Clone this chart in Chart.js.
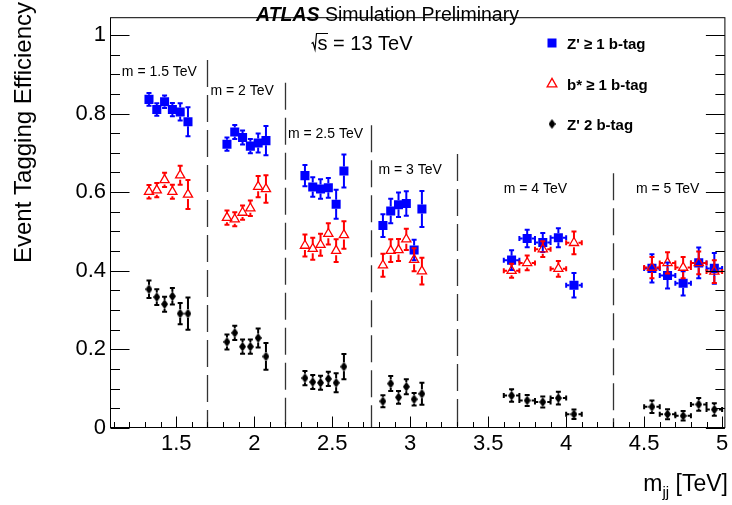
<!DOCTYPE html>
<html><head><meta charset="utf-8">
<script src="https://cdn.jsdelivr.net/npm/chart.js@4/dist/chart.umd.min.js"></script>
<style>html,body{margin:0;padding:0;background:#fff}#wrap{width:732px;height:505px;position:relative}</style>
</head><body><div id="wrap"><canvas id="c" width="732" height="505"></canvas></div>
<script>
// ---------------- data ----------------
const mjj = [1.325,1.375,1.425,1.475,1.525,1.575, 1.825,1.875,1.925,1.975,2.025,2.075,
             2.325,2.375,2.425,2.475,2.525,2.575, 2.825,2.875,2.925,2.975,3.025,3.075,
             3.65,3.75,3.85,3.95,4.05, 4.55,4.65,4.75,4.85,4.95];
const mjjErr = [0,0,0,0,0,0, 0,0,0,0,0,0, 0,0,0,0,0,0, 0,0,0,0,0,0,
                0.05,0.05,0.05,0.05,0.05, 0.05,0.05,0.05,0.05,0.05];
const zPrime1b = [0.836,0.810,0.830,0.810,0.804,0.779, 0.722,0.753,0.739,0.717,0.725,0.731,
                  0.642,0.613,0.608,0.611,0.569,0.654, 0.515,0.552,0.568,0.571,0.453,0.557,
                  0.427,0.482,0.472,0.484,0.363, 0.406,0.388,0.368,0.420,0.406];
const zPrime1bErr = [0.016,0.016,0.016,0.017,0.022,0.037, 0.017,0.018,0.018,0.018,0.024,0.037,
                     0.027,0.025,0.025,0.025,0.037,0.042, 0.029,0.031,0.031,0.031,0.026,0.046,
                     0.025,0.022,0.024,0.024,0.031, 0.036,0.033,0.031,0.039,0.039];
const bStar1b = [0.601,0.605,0.631,0.601,0.643,0.594, 0.535,0.531,0.548,0.559,0.614,0.608,
                 0.464,0.456,0.466,0.494,0.451,0.491, 0.414,0.451,0.453,0.480,0.428,0.399,
                 0.400,0.420,0.455,0.405,0.471, 0.408,0.420,0.408,0.420,0.398];
const bStar1bErr = [0.017,0.018,0.018,0.018,0.024,0.037, 0.018,0.018,0.018,0.020,0.027,0.035,
                    0.028,0.028,0.028,0.027,0.029,0.035, 0.029,0.029,0.028,0.027,0.029,0.034,
                    0.018,0.019,0.020,0.020,0.029, 0.027,0.027,0.027,0.029,0.029];
const zPrime2b = [0.353,0.333,0.315,0.335,0.291,0.291, 0.219,0.242,0.207,0.207,0.229,0.182,
                  0.127,0.117,0.115,0.125,0.115,0.156, 0.068,0.113,0.078,0.105,0.073,0.087,
                  0.0825,0.070,0.066,0.076,0.035, 0.054,0.035,0.031,0.060,0.047];
const zPrime2bErr = [0.022,0.020,0.019,0.021,0.027,0.041, 0.019,0.018,0.018,0.018,0.024,0.034,
                     0.018,0.018,0.018,0.018,0.024,0.032, 0.015,0.019,0.016,0.019,0.016,0.028,
                     0.016,0.014,0.014,0.016,0.012, 0.016,0.013,0.012,0.016,0.016];
const seriesLabels = ["Z' \u2265 1 b-tag", "b* \u2265 1 b-tag", "Z' 2 b-tag"];
const xTicks = [1.5,2,2.5,3,3.5,4,4.5,5];
const xTickLabels = ['1.5','2','2.5','3','3.5','4','4.5','5'];
const yTicks = [0,0.2,0.4,0.6,0.8,1];
const yTickLabels = ['0','0.2','0.4','0.6','0.8','1'];
const massLabels = ['m = 1.5 TeV','m = 2 TeV','m = 2.5 TeV','m = 3 TeV','m = 4 TeV','m = 5 TeV'];
const massLabelX = [1.151,1.719,2.216,2.796,3.599,4.447];
const massLabelY = [0.895,0.846,0.737,0.647,0.598,0.598];
const separatorX = [1.7,2.2,2.75,3.3,4.3];
const separatorTop = [0.936,0.878,0.770,0.697,0.648];

// ---------------- styling helpers ----------------
const FONT = '"Liberation Sans", Arial, Helvetica, sans-serif';
function diamondImg(w,h,color){
  const c=document.createElement('canvas');c.width=w;c.height=h;
  const g=c.getContext('2d');g.fillStyle=color;g.beginPath();
  g.moveTo(w/2,0);g.lineTo(w,h/2);g.lineTo(w/2,h);g.lineTo(0,h/2);g.closePath();g.fill();
  return c;
}
const diamond = diamondImg(7,10,'#000');
function pts(ys){return ys.map((v,i)=>({x:mjj[i],y:v}));}

const datasets = [
  {label:seriesLabels[0], data:pts(zPrime1b), yErr:zPrime1bErr, xErr:mjjErr, order:3,
   errColor:'#0000ff', gap:4.5, pointStyle:'rect', pointRadius:6.4, pointHoverRadius:6.4,
   backgroundColor:'#0000ff', borderColor:'#0000ff', borderWidth:0, showLine:false},
  {label:seriesLabels[1], data:pts(bStar1b), yErr:bStar1bErr, xErr:mjjErr, order:2,
   errColor:'#ff0000', gap:4.5, pointStyle:'triangle', pointRadius:5.3, pointHoverRadius:5.3,
   backgroundColor:'rgba(0,0,0,0)', borderColor:'#ff0000', borderWidth:1.3, showLine:false},
  {label:seriesLabels[2], data:pts(zPrime2b), yErr:zPrime2bErr, xErr:mjjErr, order:1,
   errColor:'#000000', gap:4.5, pointStyle:diamond, pointRadius:5, pointHoverRadius:5,
   backgroundColor:'#000', borderColor:'#000', borderWidth:0, showLine:false}
];

// error bars, drawn just before each dataset's markers
const errorBars = {
  id:'errorBars',
  beforeDatasetDraw(chart, args){
    const ds = chart.data.datasets[args.index];
    const {ctx, scales:{x, y}} = chart;
    ctx.save();
    ctx.strokeStyle = ds.errColor; ctx.lineWidth = 2; ctx.lineCap='butt';
    const cap = 2.5, g = ds.gap;
    ds.data.forEach((p,j)=>{
      const px = x.getPixelForValue(p.x), py = y.getPixelForValue(p.y);
      const t = y.getPixelForValue(p.y + ds.yErr[j]), b = y.getPixelForValue(p.y - ds.yErr[j]);
      ctx.beginPath();
      if (py - t > g) { ctx.moveTo(px, t); ctx.lineTo(px, py - g); }
      if (b - py > g) { ctx.moveTo(px, py + g); ctx.lineTo(px, b); }
      ctx.moveTo(px - cap, t); ctx.lineTo(px + cap, t);
      ctx.moveTo(px - cap, b); ctx.lineTo(px + cap, b);
      if (ds.xErr[j] > 0) {
        const l = x.getPixelForValue(p.x - ds.xErr[j]), r = x.getPixelForValue(p.x + ds.xErr[j]);
        ctx.moveTo(l, py); ctx.lineTo(px - g, py);
        ctx.moveTo(px + g, py); ctx.lineTo(r, py);
        ctx.moveTo(l, py - cap); ctx.lineTo(l, py + cap);
        ctx.moveTo(r, py - cap); ctx.lineTo(r, py + cap);
      }
      ctx.stroke();
    });
    ctx.restore();
  }
};

// frame, ticks, separators, annotations, legend, titles
const decorations = {
  id:'decorations',
  beforeDatasetsDraw(chart){
    const {ctx, scales:{x, y}} = chart;
    ctx.save();
    ctx.strokeStyle = '#333'; ctx.lineWidth = 1.3; ctx.setLineDash([27,8]);
    separatorX.forEach((sx,i)=>{
      const px = Math.round(x.getPixelForValue(sx)) + 0.5;
      ctx.beginPath(); ctx.moveTo(px, y.getPixelForValue(separatorTop[i])); ctx.lineTo(px, y.getPixelForValue(0)); ctx.stroke();
    });
    ctx.setLineDash([]);
    ctx.fillStyle = '#000'; ctx.font = '14px ' + FONT; ctx.textAlign='left'; ctx.textBaseline='alphabetic';
    massLabels.forEach((t,i)=>{
      ctx.fillText(t, x.getPixelForValue(massLabelX[i]), y.getPixelForValue(massLabelY[i]));
    });
    ctx.restore();
  },
  afterDraw(chart){
    const {ctx, chartArea:a, scales:{x, y}} = chart;
    ctx.save();
    ctx.strokeStyle = '#000'; ctx.lineWidth = 1;
    const L = a.left + 0.5, R = a.right - 0.5, T = a.top + 0.5, B = a.bottom - 0.5;
    ctx.strokeRect(L, T, R - L, B - T);
    ctx.beginPath();
    // y ticks (left and right)
    for (let k = 0; k <= 20; k++) {
      const v = k * 0.05; const py = Math.round(y.getPixelForValue(v)) + 0.5;
      const len = (k % 4 === 0) ? 19 : 9.5;
      ctx.moveTo(L, py); ctx.lineTo(L + len, py);
      ctx.moveTo(R, py); ctx.lineTo(R - len, py);
    }
    // x ticks (bottom)
    for (let k = 11; k <= 50; k++) {
      const v = k * 0.1; const px = Math.round(x.getPixelForValue(v)) + 0.5;
      const len = (k % 5 === 0) ? 11 : 5.5;
      ctx.moveTo(px, B); ctx.lineTo(px, B - len);
    }
    ctx.stroke();

    // title
    ctx.fillStyle = '#000'; ctx.textBaseline = 'alphabetic'; ctx.textAlign = 'left';
    ctx.font = 'italic bold 19.5px ' + FONT;
    ctx.fillText('ATLAS', 256, 21);
    const wA = ctx.measureText('ATLAS').width;
    ctx.font = '19.5px ' + FONT;
    ctx.fillText(' Simulation Preliminary', 256 + wA, 21);
    // sqrt(s) = 13 TeV
    ctx.font = '20px ' + FONT;
    const sx = 317.5, sb = 49.5;
    ctx.fillText('s = 13 TeV', sx, sb);
    const ws = ctx.measureText('s').width;
    ctx.lineWidth = 1.2; ctx.strokeStyle = '#000'; ctx.beginPath();
    ctx.moveTo(sx - 6, sb - 6); ctx.lineTo(sx - 4.5, sb - 7); ctx.lineTo(sx - 2.5, sb); ctx.lineTo(sx - 1, sb - 16);
    ctx.lineTo(sx + ws + 0.5, sb - 16); ctx.stroke();

    // legend
    const legY = [43, 84, 124], legBase = [48.5, 89.5, 130], mx = 552, tx = 567;
    chart.data.datasets.forEach((ds,i)=>{
      ctx.beginPath();
      if (ds.pointStyle === 'rect') {
        ctx.fillStyle = ds.backgroundColor; ctx.fillRect(mx - 4.5, legY[i] - 4.5, 9, 9);
      } else if (ds.pointStyle === 'triangle') {
        const r = 5.6; ctx.strokeStyle = ds.borderColor; ctx.lineWidth = ds.borderWidth;
        ctx.moveTo(mx, legY[i] - r); ctx.lineTo(mx + r*0.866, legY[i] + r/2); ctx.lineTo(mx - r*0.866, legY[i] + r/2);
        ctx.closePath(); ctx.stroke();
      } else {
        ctx.drawImage(ds.pointStyle, mx - ds.pointStyle.width/2, legY[i] - ds.pointStyle.height/2);
      }
      ctx.fillStyle = '#000'; ctx.font = 'bold 15px ' + FONT;
      ctx.fillText(ds.label, tx, legBase[i]);
    });

    // axis titles
    ctx.fillStyle = '#000';
    ctx.font = '23px ' + FONT; ctx.textAlign = 'left';
    const xt = ['m', 'jj', ' [TeV]'];
    const wm = ctx.measureText(xt[0]).width, wT = ctx.measureText(xt[2]).width;
    ctx.font = '15px ' + FONT; const wj = ctx.measureText(xt[1]).width;
    let x0 = 728 - wm - wj - wT;
    ctx.font = '23px ' + FONT; ctx.fillText(xt[0], x0, 491);
    ctx.font = '15px ' + FONT; ctx.fillText(xt[1], x0 + wm, 497);
    ctx.font = '23px ' + FONT; ctx.fillText(xt[2], x0 + wm + wj, 491);

    ctx.translate(31, 263); ctx.rotate(-Math.PI/2);
    ctx.font = '24px ' + FONT; ctx.fillText('Event Tagging Efficiency', 0, 0);
    ctx.restore();
  }
};

new Chart(document.getElementById('c'), {
  type: 'scatter',
  data: { datasets },
  options: {
    responsive: false, animation: false, devicePixelRatio: 1,
    layout: { padding: { left: 0, right: 3, top: 1, bottom: 0 } },
    plugins: { legend: { display: false }, tooltip: { enabled: false } },
    scales: {
      x: {
        type: 'linear', min: 1.075, max: 5.021,
        grid: { display: false, drawTicks: false }, border: { display: false },
        afterFit(s){ s.height = 77; },
        afterBuildTicks(s){ s.ticks = xTicks.map(v => ({ value: v })); },
        ticks: { autoSkip: false, maxRotation: 0, padding: 3, color: '#000',
          font: { family: FONT, size: 22 },
          callback: (v) => xTickLabels[xTicks.indexOf(v)] }
      },
      y: {
        type: 'linear', min: 0, max: 1.045,
        grid: { display: false, drawTicks: false }, border: { display: false },
        afterFit(s){ s.width = 110; },
        afterBuildTicks(s){ s.ticks = yTicks.map(v => ({ value: v })); },
        ticks: { autoSkip: false, padding: 4, color: '#000',
          font: { family: FONT, size: 22 },
          callback: (v) => yTickLabels[yTicks.indexOf(v)] }
      }
    }
  },
  plugins: [errorBars, decorations]
});
</script></body></html>
